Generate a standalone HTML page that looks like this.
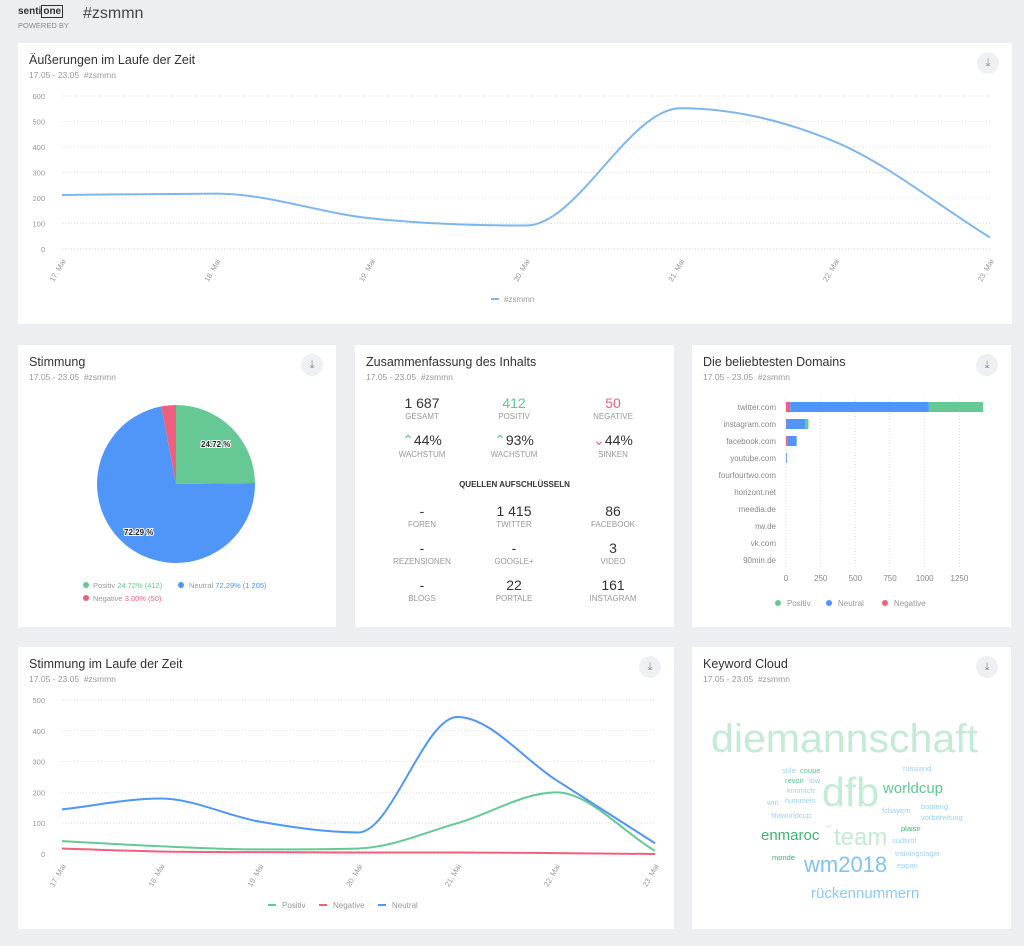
<!DOCTYPE html>
<html><head><meta charset="utf-8">
<style>
*{box-sizing:border-box;margin:0;padding:0}
body{width:1024px;height:946px;background:#eceef2;font-family:"Liberation Sans",sans-serif;color:#333;position:relative;overflow:hidden}
.p{position:absolute;background:#fff;}
.t{position:absolute;left:11px;top:10px;font-size:12.5px;color:#333}
.s{position:absolute;left:11px;top:27px;font-size:8.5px;color:#999}
.dl{position:absolute;width:22px;height:22px;border-radius:50%;background:#eef0f3;right:13px;top:9px;color:#888;font-size:11px;text-align:center;line-height:22px}
svg text{font-family:"Liberation Sans",sans-serif}
.c{position:absolute;text-align:center;width:100px}
.c b{display:block;font-weight:normal;font-size:14px;color:#333}
.c i{display:block;font-style:normal;font-size:8px;color:#999;margin-top:1px}
</style></head><body>
<div style="position:absolute;left:18px;top:6px;font-size:10px;font-weight:bold;color:#333">senti<span style="border:1px solid #333;padding:0 1px">one</span></div>
<div style="position:absolute;left:18px;top:21px;font-size:7.5px;color:#888">POWERED BY</div>
<div style="position:absolute;left:83px;top:5px;font-size:16px;color:#444">#zsmmn</div>

<div class="p" style="left:18px;top:43px;width:994px;height:281px">
<div class="t">Äußerungen im Laufe der Zeit</div><div class="s">17.05 - 23.05 &nbsp;#zsmmn</div><div class="dl">⤓</div>
</div>
<div class="p" style="left:18px;top:345px;width:318px;height:282px">
<div class="t">Stimmung</div><div class="s">17.05 - 23.05 &nbsp;#zsmmn</div><div class="dl">⤓</div>
</div>
<div class="p" style="left:355px;top:345px;width:319px;height:282px">
<div class="t">Zusammenfassung des Inhalts</div><div class="s">17.05 - 23.05 &nbsp;#zsmmn</div>
<div class="c" style="left:17px;top:50px"><b>1 687</b><i>GESAMT</i></div>
<div class="c" style="left:109px;top:50px"><b style="color:#5ec893">412</b><i>POSITIV</i></div>
<div class="c" style="left:208px;top:50px"><b style="color:#f0607e">50</b><i>NEGATIVE</i></div>
<div class="c" style="left:17px;top:87px"><b><span style="color:#5ec893">⌃</span>44%</b><i>WACHSTUM</i></div>
<div class="c" style="left:109px;top:87px"><b><span style="color:#5ec893">⌃</span>93%</b><i>WACHSTUM</i></div>
<div class="c" style="left:208px;top:87px"><b><span style="color:#f0607e">⌄</span>44%</b><i>SINKEN</i></div>
<div style="position:absolute;left:0;width:319px;top:135px;text-align:center;font-size:8px;font-weight:bold;color:#333">QUELLEN AUFSCHLÜSSELN</div>
<div class="c" style="left:17px;top:158px"><b>-</b><i>FOREN</i></div>
<div class="c" style="left:109px;top:158px"><b>1 415</b><i>TWITTER</i></div>
<div class="c" style="left:208px;top:158px"><b>86</b><i>FACEBOOK</i></div>
<div class="c" style="left:17px;top:195px"><b>-</b><i>REZENSIONEN</i></div>
<div class="c" style="left:109px;top:195px"><b>-</b><i>GOOGLE+</i></div>
<div class="c" style="left:208px;top:195px"><b>3</b><i>VIDEO</i></div>
<div class="c" style="left:17px;top:232px"><b>-</b><i>BLOGS</i></div>
<div class="c" style="left:109px;top:232px"><b>22</b><i>PORTALE</i></div>
<div class="c" style="left:208px;top:232px"><b>161</b><i>INSTAGRAM</i></div>
</div>
<div class="p" style="left:692px;top:345px;width:319px;height:282px">
<div class="t">Die beliebtesten Domains</div><div class="s">17.05 - 23.05 &nbsp;#zsmmn</div><div class="dl">⤓</div>
</div>
<div class="p" style="left:18px;top:647px;width:656px;height:282px">
<div class="t">Stimmung im Laufe der Zeit</div><div class="s">17.05 - 23.05 &nbsp;#zsmmn</div><div class="dl">⤓</div>
</div>
<div class="p" style="left:692px;top:647px;width:319px;height:282px">
<div class="t">Keyword Cloud</div><div class="s">17.05 - 23.05 &nbsp;#zsmmn</div><div class="dl">⤓</div>
</div>

<svg id="g" width="1024" height="946" style="position:absolute;left:0;top:0" font-size="8" fill="#999">
<path d="M176,484 L176,405 A79,79 0 0 1 255,483 Z" fill="#66c995"/>
<path d="M176,484 L255,483 A79,79 0 1 1 161.2,406.4 Z" fill="#4f96f8"/>
<path d="M176,484 L161.2,406.4 A79,79 0 0 1 176,405 Z" fill="#f0607e"/>
<text x="201" y="447" fill="#222" stroke="#fff" stroke-width="2" paint-order="stroke" font-weight="bold" font-size="8">24.72 %</text>
<text x="124" y="535" fill="#222" stroke="#fff" stroke-width="2" paint-order="stroke" font-weight="bold" font-size="8">72.29 %</text>
<circle cx="86" cy="585" r="3" fill="#66c995"/><text x="93" y="588" font-size="7.5">Positiv <tspan fill="#66c995">24.72% (412)</tspan></text>
<circle cx="181" cy="585" r="3" fill="#4f96f8"/><text x="189" y="588" font-size="7.5">Neutral <tspan fill="#4f96f8">72.29% (1 205)</tspan></text>
<circle cx="86" cy="598" r="3" fill="#f0607e"/><text x="93" y="601" font-size="7.5">Negative <tspan fill="#f0607e">3.00% (50)</tspan></text>
<g id="dom" font-size="8" fill="#888" text-anchor="end"></g>
<circle cx="778" cy="603" r="3" fill="#66c995"/><text x="787" y="606" font-size="8">Positiv</text>
<circle cx="829" cy="603" r="3" fill="#4f96f8"/><text x="838" y="606" font-size="8">Neutral</text>
<circle cx="885" cy="603" r="3" fill="#f0607e"/><text x="894" y="606" font-size="8">Negative</text>
<g id="top"></g><g id="bot"></g>
<line x1="491" y1="299" x2="499" y2="299" stroke="#7fb6ee" stroke-width="2"/><text x="504" y="302">#zsmmn</text>
<line x1="268" y1="905" x2="276" y2="905" stroke="#66c995" stroke-width="2"/><text x="282" y="908">Positiv</text>
<line x1="319" y1="905" x2="327" y2="905" stroke="#f0607e" stroke-width="2"/><text x="333" y="908">Negative</text>
<line x1="378" y1="905" x2="386" y2="905" stroke="#4f96f8" stroke-width="2"/><text x="392" y="908">Neutral</text>
<g text-anchor="start">
<text x="711" y="752" font-size="40" fill="#c3ebd6" textLength="267" lengthAdjust="spacingAndGlyphs">diemannschaft</text>
<text x="822" y="806" font-size="41" fill="#c3ebd6">dfb</text>
<text x="834" y="845" font-size="24" fill="#c3ebd6">team</text>
<text x="883" y="793" font-size="15" fill="#5ec893">worldcup</text>
<text x="761" y="840" font-size="15" fill="#3cb371">enmaroc</text>
<text x="804" y="872" font-size="22" fill="#7fc2f5">wm2018</text>
<text x="811" y="898" font-size="15" fill="#8ecaf5">rückennummern</text>
<g font-size="7.5">
<text x="782" y="773" fill="#9fd2f5">süle</text><text x="800" y="773" fill="#5ec893">coupe</text>
<text x="785" y="783" fill="#5ec893">revoir</text><text x="809" y="783" fill="#9fd2f5">low</text>
<text x="787" y="793" fill="#9fd2f5">kimmich</text><text x="785" y="803" fill="#9fd2f5">hummels</text>
<text x="767" y="805" fill="#9fd2f5">wm</text><text x="771" y="818" fill="#9fd2f5">fifaworldcup</text>
<text x="903" y="771" fill="#9fd2f5">russland</text><text x="882" y="813" fill="#9fd2f5">fcbayern</text>
<text x="921" y="809" fill="#9fd2f5">boateng</text><text x="921" y="820" fill="#9fd2f5">vorbereitung</text>
<text x="901" y="831" fill="#3cb371">plaisir</text><text x="892" y="843" fill="#9fd2f5">südtirol</text>
<text x="895" y="856" fill="#9fd2f5">trainingslager</text><text x="897" y="868" fill="#9fd2f5">eppan</text>
<text x="772" y="860" fill="#3cb371">monde</text><text x="826" y="828" fill="#c3ebd6" font-size="5">en</text>
</g></g>
</svg>
<script>
var NS="http://www.w3.org/2000/svg";
function el(p,t,a,txt){var e=document.createElementNS(NS,t);for(var k in a)e.setAttribute(k,a[k]);if(txt!=null)e.textContent=txt;p.appendChild(e);return e;}
function path(xs,ys){var n=xs.length,d=[],m=[];for(var i=0;i<n-1;i++)d.push((ys[i+1]-ys[i])/(xs[i+1]-xs[i]));
 m[0]=d[0];m[n-1]=d[n-2];for(i=1;i<n-1;i++)m[i]=(d[i-1]*d[i]<=0)?0:(d[i-1]+d[i])/2;
 for(i=0;i<n-1;i++){if(d[i]==0){m[i]=m[i+1]=0;continue;}var a=m[i]/d[i],b=m[i+1]/d[i],s=a*a+b*b;if(s>9){var t=3/Math.sqrt(s);m[i]=t*a*d[i];m[i+1]=t*b*d[i];}}
 var p="M"+xs[0]+","+ys[0];for(i=1;i<n;i++){var h=(xs[i]-xs[i-1])/3;p+=" C"+(xs[i-1]+h)+","+(ys[i-1]+m[i-1]*h)+" "+(xs[i]-h)+","+(ys[i]-m[i]*h)+" "+xs[i]+","+ys[i];}return p;}
var days=["17. Mai","18. Mai","19. Mai","20. Mai","21. Mai","22. Mai","23. Mai"];
function chart(g,x0,x1,y0,yTop,max,step,series){
 var sc=(y0-yTop)/max;
 for(var v=0;v<=max;v+=step){var y=y0-v*sc;el(g,"line",{x1:x0,x2:x1,y1:y,y2:y,stroke:"#e2e2e2","stroke-dasharray":"1,2"});el(g,"text",{x:x0-17,y:y+3,"text-anchor":"end","font-size":"7.5"},v);}
 var xs=[];for(var i=0;i<7;i++){var x=x0+(x1-x0)*i/6;xs.push(x);el(g,"text",{x:0,y:0,"text-anchor":"end","font-size":"7.5",transform:"translate("+(x+4)+","+(y0+12)+") rotate(-60)"},days[i]);}
 series.forEach(function(s){el(g,"path",{d:path(xs,s[0].map(function(v){return y0-v*sc;})),fill:"none",stroke:s[1],"stroke-width":2});});
}
chart(document.getElementById("top"),62,990,249,96,600,100,[[[212,217,120,92,552,420,45],"#7fb6ee"]]);
chart(document.getElementById("bot"),62,655,854,700,500,100,[[[42,25,15,18,100,200,10],"#66c995"],[[18,8,6,5,5,3,0],"#f0607e"],[[145,180,105,70,445,240,35],"#4f96f8"]]);
var dg=document.getElementById("dom");
var bx=786,bs=(983-786)/1420;
[0,250,500,750,1000,1250].forEach(function(v){var x=bx+v*bs;el(dg,"line",{x1:x,x2:x,y1:398,y2:567,stroke:"#ddd","stroke-dasharray":"1,2"});el(dg,"text",{x:x,y:581,"text-anchor":"middle"},v);});
var names=["twitter.com","instagram.com","facebook.com","youtube.com","fourfourtwo.com","horizont.net","meedia.de","nw.de","vk.com","90min.de"];
var data=[[30,1000,390],[2,135,25],[12,65,0],[0,3,0]];
names.forEach(function(n,i){var y=407+i*17;el(dg,"text",{x:776,y:y+3},n);var d=data[i];if(d){var x=bx;[[d[0],"#f0607e"],[d[1],"#4f96f8"],[d[2],"#66c995"]].forEach(function(s){var w=s[0]*bs;if(w>0){el(dg,"rect",{x:x,y:y-5,width:Math.max(w,0.8),height:10,fill:s[1]});x+=w;}});}});
</script>
</body></html>
